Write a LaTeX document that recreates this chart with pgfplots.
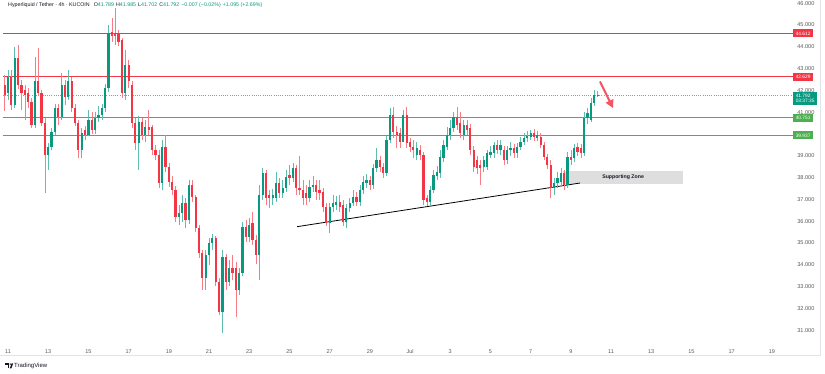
\documentclass[border=0pt]{standalone}
\usepackage{pgfplots}
\pgfplotsset{compat=1.18}
\usepackage{pgfplotstable}
\usepackage{fontspec}
\setmainfont{Liberation Sans}
\usetikzlibrary{arrows.meta}

\definecolor{tvup}{RGB}{8,153,129}
\definecolor{tvdn}{RGB}{242,54,69}
\definecolor{tvgreen}{RGB}{76,175,80}
\definecolor{tvtext}{RGB}{19,23,34}
\definecolor{tvgrey}{RGB}{90,90,90}
\definecolor{zonegrey}{RGB}{222,222,222}
\definecolor{framegrey}{RGB}{224,227,235}

% t = candle index (4h candles, 0 = 11 Jun 00:00), o h l c = price
\pgfplotstableread{
t o h l c
-1 42.25 42.71 41.06 41.79
1 42.61 42.94 41.10 41.33
3 43.49 44.08 42.06 42.25
4 42.25 42.48 41.10 41.88
5 42.02 42.25 40.64 41.79
6 41.88 42.11 41.19 41.47
7 41.47 41.65 40.27 40.41
9 42.41 43.95 41.74 41.88
10 41.88 42.02 40.37 40.50
11 40.50 40.73 37.29 39.04
15 41.19 41.38 40.41 40.78
17 42.25 42.48 41.33 41.70
19 42.41 42.61 41.01 41.19
20 41.19 41.38 40.37 40.50
21 40.50 40.64 38.90 39.27
23 40.18 40.37 39.73 39.95
25 40.64 41.01 40.00 40.18
31 44.68 45.32 44.22 44.50
32 44.63 45.78 44.08 44.50
33 44.63 44.77 44.03 44.22
34 44.31 44.40 41.65 41.88
36 43.17 43.40 42.11 42.41
37 42.25 42.41 40.27 40.50
38 40.50 40.73 39.27 39.59
40 40.55 40.73 39.73 39.95
42 40.32 41.10 39.95 40.18
43 40.32 40.41 39.04 39.27
44 39.27 39.50 38.81 39.04
45 39.04 39.27 37.52 37.75
47 39.40 39.95 38.26 38.49
48 38.49 38.67 37.57 37.80
49 37.80 38.07 37.20 37.43
50 37.43 37.61 35.96 36.19
53 36.83 37.06 35.69 36.05
55 37.66 37.89 36.88 37.11
56 37.11 37.20 35.50 35.69
57 35.69 35.83 34.31 34.54
58 34.54 34.68 32.84 33.40
62 35.23 35.32 33.03 33.21
63 33.21 33.40 31.70 31.83
65 34.36 34.49 32.84 33.21
67 33.85 34.45 33.30 33.62
68 33.85 34.13 31.61 32.84
71 35.73 36.05 35.05 35.28
73 35.92 36.42 34.91 35.14
74 35.14 35.37 34.04 34.45
77 38.21 38.35 36.74 37.06
78 37.20 37.43 36.61 37.06
81 37.75 37.98 37.06 37.29
84 38.12 38.58 37.66 37.98
86 38.44 38.58 37.20 37.52
87 37.52 38.99 37.20 37.43
88 37.43 37.89 36.74 37.06
89 37.29 37.66 36.74 37.06
92 37.66 37.89 36.97 37.34
93 37.43 37.89 36.97 37.29
94 37.34 37.52 36.42 36.65
95 36.65 36.83 35.78 35.92
99 36.88 37.20 36.42 36.65
100 36.74 36.97 35.78 35.96
104 37.11 37.34 36.70 36.88
108 37.89 38.07 37.43 37.66
111 38.81 38.99 38.26 38.49
112 38.49 38.67 37.98 38.21
115 40.87 41.24 39.82 40.09
116 40.09 40.37 39.36 39.95
117 40.05 40.27 39.36 39.63
119 40.87 41.24 39.36 39.59
120 39.63 39.82 39.17 39.40
121 39.40 39.73 38.90 39.27
123 39.27 39.50 38.81 39.04
124 39.04 39.17 36.74 36.97
125 37.06 37.20 36.70 36.88
134 40.78 41.24 40.18 40.41
135 40.50 41.01 39.82 40.05
137 40.41 40.64 39.95 40.18
138 40.27 40.46 39.04 39.27
139 39.27 39.45 38.26 38.49
140 38.81 38.99 38.17 38.44
141 38.58 38.81 37.66 38.44
146 39.50 39.73 39.08 39.27
148 39.27 39.45 38.58 38.81
151 39.36 39.54 38.90 39.13
157 40.05 40.23 39.68 39.86
159 39.86 40.05 39.36 39.50
160 39.50 39.63 38.81 38.94
161 38.94 39.08 38.39 38.58
162 38.58 38.81 37.06 37.52
166 38.21 38.35 37.43 37.66
168 38.94 39.27 38.58 38.81
170 39.40 39.59 38.99 39.17
171 39.36 39.54 38.90 39.13
}\dntab

\pgfplotstableread{
t o h l c
0 41.88 42.94 41.56 42.61
2 41.33 43.99 41.19 43.49
8 40.41 43.53 40.27 42.41
12 39.04 39.59 38.35 39.40
13 39.40 40.27 39.27 40.09
14 40.09 41.38 39.95 41.19
16 40.78 42.80 40.64 42.25
18 41.70 42.94 41.56 42.41
22 39.27 40.27 38.90 40.05
24 39.95 41.10 39.91 40.64
26 40.18 41.01 40.00 40.73
27 40.73 41.28 40.55 40.87
28 40.87 41.38 40.64 41.19
29 41.19 42.30 41.01 42.11
30 42.11 45.00 41.92 44.63
35 41.88 43.85 41.56 43.17
39 39.59 40.82 38.35 40.55
41 39.95 40.64 39.63 40.32
46 37.75 39.73 37.43 39.40
51 36.19 36.74 35.83 36.38
52 36.38 37.20 35.96 36.83
54 36.05 37.89 35.87 37.66
59 33.40 34.68 32.84 34.45
60 34.45 35.23 33.99 35.00
61 35.00 35.41 34.68 35.23
64 31.83 34.68 30.87 34.36
66 33.21 34.22 33.03 33.85
69 32.84 33.85 32.61 33.62
70 33.62 35.96 33.49 35.73
72 35.28 36.15 35.05 35.83
75 34.45 37.66 33.30 37.20
76 37.20 38.44 36.97 38.21
79 37.06 37.48 36.74 37.20
80 37.06 38.26 36.88 37.75
82 37.29 37.89 37.06 37.52
83 37.52 38.35 37.34 38.03
85 37.98 38.67 37.80 38.44
90 37.06 37.89 36.88 37.57
91 37.57 38.07 37.34 37.66
96 35.92 36.83 35.46 36.65
97 36.65 37.20 36.42 36.83
98 36.74 37.16 36.51 36.88
101 35.96 36.79 35.69 36.61
102 36.61 37.06 36.42 36.83
103 36.83 37.43 36.70 37.11
105 36.88 37.66 36.70 37.43
106 37.43 38.07 37.25 37.80
107 37.75 38.17 37.52 37.89
109 37.66 38.62 37.48 38.44
110 38.44 39.36 38.26 38.81
113 38.21 39.91 38.07 39.73
114 39.73 41.19 39.59 40.87
118 39.63 41.10 39.63 40.87
122 39.04 39.63 38.81 39.36
126 36.88 37.61 36.70 37.43
127 37.43 38.35 37.29 38.12
128 38.07 38.53 37.89 38.26
129 38.21 39.27 37.98 38.94
130 38.90 39.73 38.71 39.50
131 39.40 40.32 39.27 39.95
132 39.95 40.64 39.73 40.27
133 40.27 41.01 40.09 40.78
136 39.95 40.64 39.73 40.41
142 38.49 38.99 38.26 38.81
143 38.49 39.27 38.35 39.13
144 39.04 39.45 38.90 39.17
145 39.13 39.63 38.90 39.50
147 39.27 39.73 39.04 39.50
149 38.81 39.45 38.62 39.27
150 39.27 39.63 38.99 39.36
152 39.13 39.59 38.90 39.40
153 39.40 39.86 39.27 39.63
154 39.63 40.05 39.50 39.82
155 39.82 40.14 39.63 39.91
156 39.86 40.18 39.73 40.05
158 39.82 40.14 39.68 39.95
163 37.52 37.98 37.20 37.75
164 37.75 38.26 37.52 37.98
165 37.80 38.44 37.61 38.21
167 37.66 39.17 37.52 38.94
169 38.90 39.54 38.71 39.36
172 39.13 41.01 38.99 40.73
173 40.73 41.19 40.46 40.96
174 40.64 41.65 40.55 41.42
175 41.42 42.02 41.28 41.79
176 41.789 41.985 41.702 41.792
}\uptab

\begin{document}
\begin{tikzpicture}[x=1pt,y=1pt]
\path[use as bounding box] (0,0) rectangle (825,373);
\fill[white] (0,0) rectangle (825,373);
\draw[framegrey, line width=0.6pt] (820.5,373) -- (820.5,18) -- (0,18);
\begin{axis}[
  at={(3pt,31pt)}, anchor=south west, scale only axis,
  width=782pt, height=339pt,
  xmin=-1.5, xmax=231.93, ymin=30.459, ymax=46.009,
  axis x line=bottom, axis y line=right,
  axis line style={draw=none,-},
  tick style={draw=none},
  clip=false,
  xtick={0,12,...,228},
  xticklabels={11,13,15,17,19,21,23,25,27,29,Jul,3,5,7,9,11,13,15,17,19},
  ytick={31,32,33,34,35,36,37,38,39,41,42,43,44,45,46},
  yticklabels={31.000,32.000,33.000,34.000,35.000,36.000,37.000,38.000,39.000,41.000,42.000,43.000,44.000,45.000,46.000},
  yticklabel style={anchor=west, inner sep=0pt, xshift=10pt, font=\fontsize{5.6}{6}\selectfont, text=tvgrey},
  xticklabel style={anchor=north, inner sep=0pt, yshift=-5pt, font=\fontsize{5.5}{6}\selectfont, text=tvgrey},
  candle/.style={draw=none, mark=none, forget plot,
    error bars/.cd, y dir=both, y explicit, error mark=none},
]
% supporting zone
\addplot[fill=zonegrey, draw=none, forget plot] coordinates {(165.7,38.30) (201.5,38.30) (201.5,37.71) (165.7,37.71)} -- cycle;
\node[font=\fontsize{5.2}{6}\selectfont\bfseries, text=tvtext] at (axis cs:183.6,38.005) {Supporting Zone};

% horizontal levels
\addplot[tvdn, line width=0.9pt, forget plot] coordinates {(-1.5,44.612) (234.3,44.612)};
\addplot[tvdn, line width=0.9pt, forget plot] coordinates {(-1.5,42.629) (234.3,42.629)};
\addplot[tvgreen, line width=0.9pt, forget plot] coordinates {(-1.5,40.751) (234.3,40.751)};
\addplot[tvgreen, line width=0.9pt, forget plot] coordinates {(-1.5,39.937) (234.3,39.937)};
\addplot[tvup!70!white, line width=0.5pt, dash pattern=on 1pt off 1.2pt, forget plot] coordinates {(-1.5,41.792) (234.3,41.792)};

% trendline
\addplot[black, line width=0.8pt, forget plot] coordinates {(86.3,35.75) (170.7,37.75)};

% wicks
\addplot[candle, error bar style={draw=tvdn!65!white, line width=0.55pt}]
  table[x=t, y expr={(\thisrow{h}+\thisrow{l})/2}, y error expr={(\thisrow{h}-\thisrow{l})/2}] {\dntab};
\addplot[candle, error bar style={draw=tvup!65!white, line width=0.55pt}]
  table[x=t, y expr={(\thisrow{h}+\thisrow{l})/2}, y error expr={(\thisrow{h}-\thisrow{l})/2}] {\uptab};
% bodies
\addplot[candle, error bar style={draw=tvdn, line width=2.2pt}]
  table[x=t, y expr={(\thisrow{o}+\thisrow{c})/2}, y error expr={abs(\thisrow{o}-\thisrow{c})/2}] {\dntab};
\addplot[candle, error bar style={draw=tvup, line width=2.2pt}]
  table[x=t, y expr={(\thisrow{o}+\thisrow{c})/2}, y error expr={abs(\thisrow{o}-\thisrow{c})/2}] {\uptab};

% red arrow
\addplot[tvdn!85!white, line width=2pt, -{Triangle[width=8pt,length=8pt]}, forget plot] coordinates {(176.7,42.41) (180.6,41.19)};

\coordinate (r1) at (axis cs:234.3,44.612);
\coordinate (r2) at (axis cs:234.3,42.629);
\coordinate (cp) at (axis cs:234.3,41.792);
\coordinate (g1) at (axis cs:234.3,40.751);
\coordinate (g2) at (axis cs:234.3,39.937);
\end{axis}

% price boxes
\tikzset{pbox/.style={anchor=west, inner sep=0pt, minimum width=20pt, minimum height=8pt, text=white, font=\fontsize{4.8}{5}\selectfont}}
\node[pbox, fill=tvdn] at (r1) {44.612};
\node[pbox, fill=tvdn] at (r2) {42.629};
\node[pbox, fill=tvup, minimum width=24pt, minimum height=13pt, align=left, anchor=north west, font=\fontsize{4.8}{5.4}\selectfont] at ([yshift=3.5pt]cp) {41.792\\03:37:35};
\node[pbox, fill=tvgreen] at (g1) {40.751};
\node[pbox, fill=tvgreen] at (g2) {39.937};

% title
\node[anchor=west, inner sep=0pt, font=\fontsize{5.3}{6}\selectfont, text=tvtext] at (8,368)
 {Hyperliquid / Tether · 4h · KUCOIN\hspace{4pt}O\textcolor{tvup}{41.789}\hspace{2pt}H\textcolor{tvup}{41.985}\hspace{2pt}L\textcolor{tvup}{41.702}\hspace{2pt}C\textcolor{tvup}{41.792}\hspace{2pt}\textcolor{tvup}{−0.007 (−0.02\%)}\hspace{2pt}\textcolor{tvup}{+1.095 (+2.69\%)}};

% TradingView logo
\fill[tvtext] (5,9.6) rectangle (9,8.2);
\fill[tvtext] (7.6,8.2) rectangle (9,4.6);
\fill[tvtext] (10.3,8.9) circle (0.75);
\fill[tvtext] (11.6,9.6) -- (13.2,9.6) -- (11.4,4.6) -- (9.8,4.6) -- cycle;
\node[anchor=west, inner sep=0pt, font=\fontsize{6}{7}\selectfont, text=tvtext] at (14,7) {TradingView};
\end{tikzpicture}
\end{document}
